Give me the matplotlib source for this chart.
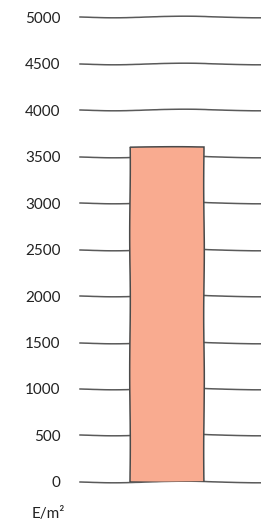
import numpy as np
import matplotlib
matplotlib.use("Agg")
import matplotlib.pyplot as plt

# data
categories = [""]
values = [3600]
yticks = [0, 500, 1000, 1500, 2000, 2500, 3000, 3500, 4000, 4500, 5000]
unit_label = "E/m\u00b2"

plt.rcParams['font.family'] = ['Lato', 'DejaVu Sans']

fig = plt.figure(figsize=(2.61, 5.27), dpi=100)
ax = fig.add_axes([0.307, 0.0854, 0.693, 0.8823])

# hand drawn look for gridlines
for yv in yticks:
    ln, = ax.plot([-0.705, 0.763], [yv, yv], color="#5a5a5a", lw=1.1,
                  zorder=1, clip_on=False)
    ln.set_sketch_params(scale=0.8, length=150, randomness=2)

bars = ax.bar(range(len(categories)), values, width=0.6, color="#f9ab90",
              edgecolor="#4a4a4a", linewidth=1.1, zorder=2)
for b in bars:
    b.set_sketch_params(scale=0.3, length=150, randomness=2)

ax.set_xlim(-0.705, 0.763)
ax.set_ylim(0, 5000)
ax.set_yticks(yticks)
ax.set_yticklabels([str(t) for t in yticks], fontsize=11, color="#222222")
ax.tick_params(axis='y', length=0, pad=14)
ax.set_xticks([])
for s in ax.spines.values():
    s.set_visible(False)

ax.text(-0.085, -0.068, unit_label, transform=ax.transAxes, ha="right", va="center",
        fontsize=11, color="#222222")

fig.savefig("out.png", dpi=100)
